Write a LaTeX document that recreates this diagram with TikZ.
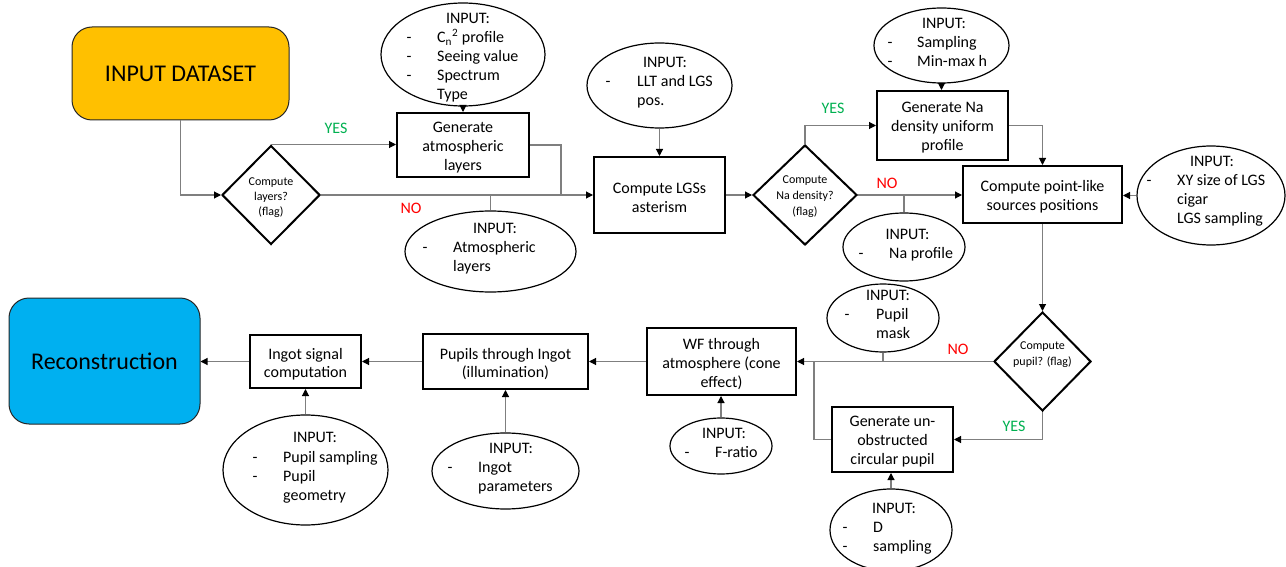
\documentclass[tikz,border=0pt]{standalone}
\usepackage{fontspec}
\setmainfont{Carlito}
\usetikzlibrary{shapes.geometric,arrows.meta}
\definecolor{dsgold}{HTML}{FFC000}
\definecolor{recblue}{HTML}{00B0F0}
\definecolor{yesgreen}{HTML}{00B050}
\definecolor{nored}{HTML}{FF0000}
\definecolor{conncol}{HTML}{7F7F7F}
\begin{document}
\begin{tikzpicture}[x=1pt,y=-1pt,
  proc/.style={draw=black, line width=2pt, rectangle, inner sep=0pt},
  ptxt/.style={align=center, inner sep=0pt, yshift=-2.5pt, font=\fontsize{16}{19}\selectfont},
  inp/.style={draw=black, line width=1.2pt, ellipse, inner sep=0pt},
  dec/.style={draw=black, line width=2pt, diamond, inner sep=0pt},
  dtxt/.style={align=center, inner sep=0pt, font=\fontsize{12}{15}\selectfont},
  tx/.style={anchor=mid west, inner sep=0pt, yshift=-1.5pt, font=\fontsize{16}{19}\selectfont},
  txc/.style={anchor=mid, inner sep=0pt, yshift=-1.5pt, font=\fontsize{16}{19}\selectfont},
  big/.style={draw=black!85, line width=1pt, rounded corners=20pt, inner sep=0pt, font=\fontsize{24}{29}\selectfont},
  conn/.style={draw=conncol, line width=1.1pt},
  arr/.style={conn, -{Triangle[length=7pt,width=7pt,color=black]}},
  yeslbl/.style={text=yesgreen, inner sep=0pt, font=\fontsize{16}{19}\selectfont},
  nolbl/.style={text=nored, inner sep=0pt, font=\fontsize{16}{19}\selectfont}
]
\useasboundingbox (0,0) rectangle (1286,567);

% big terminal boxes
\node[big, fill=dsgold, minimum width=217pt, minimum height=93pt] (ds) at (180.5,73.5) {INPUT DATASET};
\node[big, fill=recblue, minimum width=191pt, minimum height=126pt] (rec) at (104.5,361) {Reconstruction};

% decisions
\node[dec, minimum width=98pt, minimum height=99pt] (d1) at (271,195) {};
\node[dtxt] (d1t) at (271,197.5) {Compute\\layers?\\(flag)};
\node[dec, minimum width=104pt, minimum height=100pt] (d2) at (805,195) {};
\node[dtxt, font=\fontsize{12}{16}\selectfont] (d2t) at (805,196.5) {Compute\\Na density?\\(flag)};
\node[dec, minimum width=97pt, minimum height=99pt] (d3) at (1042.5,361.5) {};
\node[dtxt, font=\fontsize{12}{16}\selectfont] (d3t) at (1042.5,354.5) {Compute\\pupil? (flag)};

% process boxes
\node[proc, minimum width=132pt, minimum height=64pt] (g1) at (463,145) {};
\node[ptxt] (g1t) at (g1) {Generate\\atmospheric\\layers};
\node[proc, minimum width=131pt, minimum height=76pt] (lgs) at (659.5,195) {};
\node[ptxt] (lgst) at (lgs) {Compute LGSs\\asterism};
\node[proc, minimum width=131pt, minimum height=69pt] (gna) at (942.5,125.5) {};
\node[ptxt] (gnat) at (gna) {Generate Na\\density uniform\\profile};
\node[proc, minimum width=159pt, minimum height=57pt] (pl) at (1042.5,194.5) {};
\node[ptxt] (plt) at (pl) {Compute point-like\\sources positions};
\node[proc, minimum width=149pt, minimum height=67pt] (wf) at (721.5,361.5) {};
\node[ptxt] (wft) at (wf) {WF through\\atmosphere (cone\\effect)};
\node[proc, minimum width=165pt, minimum height=55pt] (pi) at (505.5,361.5) {};
\node[ptxt, font=\fontsize{16}{18.5}\selectfont] (pit) at (pi) {Pupils through Ingot\\(illumination)};
\node[proc, minimum width=111pt, minimum height=53pt] (is) at (305.5,361.5) {};
\node[ptxt, font=\fontsize{16}{18.5}\selectfont] (ist) at (is) {Ingot signal\\computation};
\node[proc, minimum width=121pt, minimum height=65pt] (gu) at (892.5,439.5) {};
\node[ptxt] (gut) at (gu) {Generate un-\\obstructed\\circular pupil};

% input ellipses
\node[inp, minimum width=164pt, minimum height=103pt] (e1) at (463,54.5) {};
\node[txc] (e1h) at (468,20) {INPUT:};
\node[txc] (e1d1) at (409,39) {-};
\node[txc] (e1d2) at (409,58) {-};
\node[txc] (e1d3) at (409,77) {-};
\node[tx] (e1t1) at (437,39) {C\textsubscript{n}\textsuperscript{2} profile};
\node[tx] (e1t2) at (437,58) {Seeing value};
\node[tx] (e1t3) at (437,77) {Spectrum};
\node[tx] (e1t4) at (437,96) {Type};

\node[inp, minimum width=145pt, minimum height=85pt] (e2) at (659.5,85.5) {};
\node[txc] (e2h) at (665,64) {INPUT:};
\node[txc] (e2d1) at (608,83) {-};
\node[tx] (e2t1) at (637,83) {LLT and LGS};
\node[tx] (e2t2) at (637,102) {pos.};

\node[inp, minimum width=171pt, minimum height=81pt] (e3) at (490.5,251.5) {};
\node[txc] (e3h) at (495,230) {INPUT:};
\node[txc] (e3d1) at (425,249) {-};
\node[tx] (e3t1) at (453,249) {Atmospheric};
\node[tx] (e3t2) at (453,268) {layers};

\node[inp, minimum width=135pt, minimum height=75pt] (e4) at (941.5,45.5) {};
\node[txc] (e4h) at (944,25) {INPUT:};
\node[txc] (e4d1) at (890,44) {-};
\node[txc] (e4d2) at (890,63) {-};
\node[tx] (e4t1) at (917,44) {Sampling};
\node[tx] (e4t2) at (917,63) {Min-max h};

\node[inp, minimum width=122pt, minimum height=68pt] (e5) at (904,247) {};
\node[txc] (e5h) at (907.5,236) {INPUT:};
\node[txc] (e5d1) at (861,255) {-};
\node[tx] (e5t1) at (889,255) {Na profile};

\node[inp, minimum width=148pt, minimum height=99pt] (e6) at (1211,195.5) {};
\node[txc] (e6h) at (1212,163) {INPUT:};
\node[txc] (e6d1) at (1149,182) {-};
\node[tx] (e6t1) at (1177,182) {XY size of LGS};
\node[tx] (e6t2) at (1177,201) {cigar};
\node[tx] (e6t3) at (1177,220) {LGS sampling};

\node[inp, minimum width=112pt, minimum height=68pt] (e7) at (883,318) {};
\node[txc] (e7h) at (888,297) {INPUT:};
\node[txc] (e7d1) at (847,316) {-};
\node[tx] (e7t1) at (876,316) {Pupil};
\node[tx] (e7t2) at (876,335) {mask};

\node[inp, minimum width=165pt, minimum height=110pt] (e8) at (305.5,470) {};
\node[txc] (e8h) at (315,439) {INPUT:};
\node[txc] (e8d1) at (255,459) {-};
\node[txc] (e8d2) at (255,478) {-};
\node[tx] (e8t1) at (283,459) {Pupil sampling};
\node[tx] (e8t2) at (283,478) {Pupil};
\node[tx] (e8t3) at (283,497) {geometry};

\node[inp, minimum width=147pt, minimum height=76pt] (e9) at (505.5,471) {};
\node[txc] (e9h) at (511,450) {INPUT:};
\node[txc] (e9d1) at (450,469) {-};
\node[tx] (e9t1) at (478,469) {Ingot};
\node[tx] (e9t2) at (478,488) {parameters};

\node[inp, minimum width=102pt, minimum height=56pt] (e10) at (721,446) {};
\node[txc] (e10h) at (724,435) {INPUT:};
\node[txc] (e10d1) at (687,454) {-};
\node[tx] (e10t1) at (715,454) {F-ratio};

\node[inp, minimum width=122pt, minimum height=82pt] (e11) at (891,530) {};
\node[txc] (e11h) at (894,510) {INPUT:};
\node[txc] (e11d1) at (845,529) {-};
\node[txc] (e11d2) at (845,548) {-};
\node[tx] (e11t1) at (873,529) {D};
\node[tx] (e11t2) at (873,548) {sampling};

% junction points
\coordinate (j1) at (561,195);
\coordinate (j2) at (814,361.5);

% connectors
\draw[arr] (ds.south) |- (d1.west);
\draw[arr] (d1.north) -- (d1.north -| g1.west);
\draw[arr] (d1.east) -- (lgs.west);
\draw[conn] (g1.east) -| (j1);
\draw[arr] (e1.south) -- (g1.north);
\draw[conn] (e3.north) -- (e3.north |- lgs.west);
\draw[arr] (e2.south) -- (lgs.north);
\draw[arr] (lgs.east) -- (d2.west);
\draw[arr] (d2.north) |- (gna.west);
\draw[arr] (e4.south) -- (e4.south |- gna.north);
\draw[arr] (gna.east) -| (pl.north);
\draw[arr] (d2.east) -- (d2.east -| pl.west);
\draw[conn] (e5.north) -- (e5.north |- d2.east);
\draw[arr] (e6.west) -- (e6.west -| pl.east);
\draw[arr] (pl.south) -- (d3.north);
\draw[arr] (d3.west) -- (wf.east);
\draw[conn] (e7.south) -- (e7.south |- d3.west);
\draw[arr] (d3.south) |- (gu.east);
\draw[conn] (gu.west) -| (j2);
\draw[arr] (e11.north) -- (e11.north |- gu.south);
\draw[arr] (wf.west) -- (pi.east);
\draw[arr] (e10.north) -- (e10.north |- wf.south);
\draw[arr] (pi.west) -- (is.east);
\draw[arr] (e9.north) -- (pi.south);
\draw[arr] (is.west) -- (is.west -| rec.east);
\draw[arr] (e8.north) -- (is.south);

% branch labels
\node[yeslbl] (y1) at (336,128) {YES};
\node[nolbl] (n1) at (411,208) {NO};
\node[yeslbl] (y2) at (833,108) {YES};
\node[nolbl] (n2) at (887,183) {NO};
\node[nolbl] (n3) at (958,349) {NO};
\node[yeslbl] (y3) at (1014,426) {YES};
\end{tikzpicture}
\end{document}
